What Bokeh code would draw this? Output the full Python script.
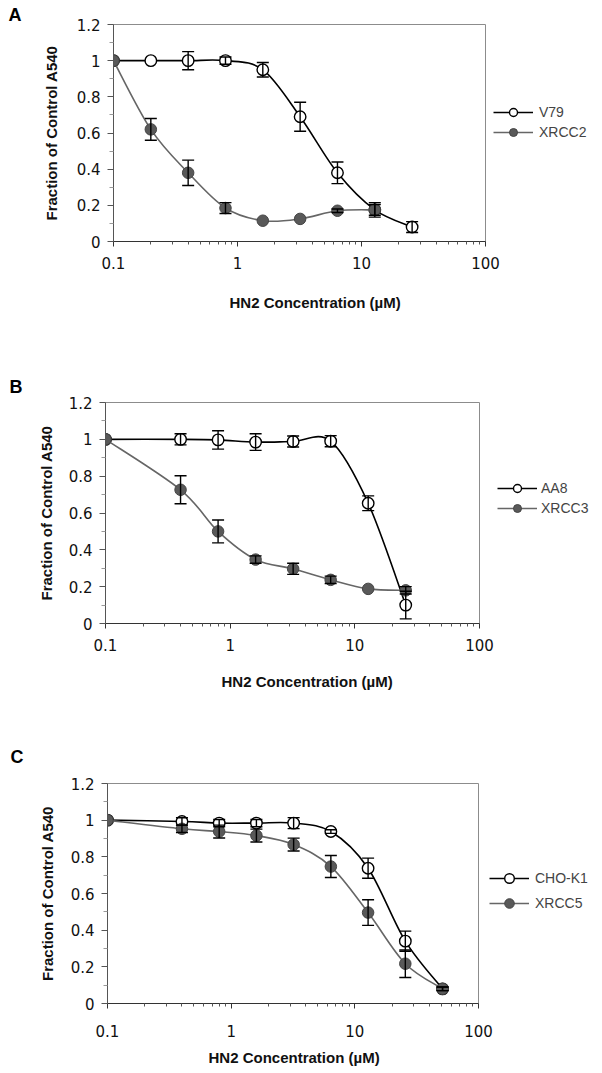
import math
from bokeh.plotting import figure
from bokeh.models import (ColumnDataSource, FixedTicker, Whisker, TeeHead,
                          Legend, LegendItem, Title)
from bokeh.embed import file_html
from bokeh.resources import INLINE

# ---------------- data ----------------
# Panel A
conc_a_v79 = [0.1, 0.2, 0.4, 0.8, 1.6, 3.2, 6.4, 12.8, 25.6]
v79 = [1.0, 1.0, 1.0, 1.0, 0.95, 0.69, 0.38, 0.175, 0.08]
v79_err = [0, 0, 0.05, 0.02, 0.04, 0.08, 0.06, 0.03, 0.03]
conc_a_xrcc2 = [0.1, 0.2, 0.4, 0.8, 1.6, 3.2, 6.4, 12.8]
xrcc2 = [1.0, 0.62, 0.38, 0.185, 0.115, 0.125, 0.17, 0.175]
xrcc2_err = [0, 0.06, 0.07, 0.03, 0, 0, 0.01, 0.04]

# Panel B
conc_b = [0.1, 0.4, 0.8, 1.6, 3.2, 6.4, 12.8, 25.6]
aa8 = [1.0, 1.0, 0.997, 0.985, 0.988, 0.99, 0.653, 0.10]
aa8_err = [0, 0.03, 0.05, 0.045, 0.03, 0.03, 0.04, 0.075]
xrcc3 = [1.0, 0.726, 0.50, 0.347, 0.297, 0.237, 0.188, 0.18]
xrcc3_err = [0, 0.076, 0.062, 0.02, 0.03, 0.02, 0, 0.02]

# Panel C
conc_c = [0.1, 0.4, 0.8, 1.6, 3.2, 6.4, 12.8, 25.6, 51.2]
chok1 = [1.0, 0.993, 0.984, 0.984, 0.984, 0.938, 0.738, 0.34, 0.08]
chok1_err = [0, 0.02, 0.02, 0.02, 0.03, 0.01, 0.055, 0.055, 0.01]
xrcc5 = [1.0, 0.953, 0.938, 0.916, 0.867, 0.747, 0.496, 0.217, 0.08]
xrcc5_err = [0, 0.02, 0.035, 0.035, 0.035, 0.06, 0.07, 0.075, 0.01]

# axes
y_ticks = [0, 0.2, 0.4, 0.6, 0.8, 1, 1.2]
y_tick_labels = ["0", "0.2", "0.4", "0.6", "0.8", "1", "1.2"]
y_minor = [0.1, 0.3, 0.5, 0.7, 0.9, 1.1]
x_ticks = [0.1, 1, 10, 100]
x_tick_labels = ["0.1", "1", "10", "100"]
x_minor = [0.2, 0.3, 0.4, 0.5, 0.6, 0.7, 0.8, 0.9,
           2, 3, 4, 5, 6, 7, 8, 9,
           20, 30, 40, 50, 60, 70, 80, 90]

x_title = "HN2 Concentration (\u00b5M)"
y_title = "Fraction of Control A540"

OPEN_LINE = "#000000"
FILL_LINE = "#666666"
FILL_MARK = "#595959"

TICK_FONT = "DejaVu Sans"
TEXT_FONT = "Liberation Sans"
W = 602


def smooth_segments(xs, ys):
    """Excel-like smoothed line: cubic Bezier segments (Catmull-Rom) in log-x space."""
    lx = [math.log10(v) for v in xs]
    n = len(xs)
    d = dict(x0=[], y0=[], x1=[], y1=[], cx0=[], cy0=[], cx1=[], cy1=[])
    for i in range(n - 1):
        a = max(i - 1, 0)
        b = min(i + 2, n - 1)
        c1x = lx[i] + (lx[i + 1] - lx[a]) / 6.0
        c1y = ys[i] + (ys[i + 1] - ys[a]) / 6.0
        c2x = lx[i + 1] - (lx[b] - lx[i]) / 6.0
        c2y = ys[i + 1] - (ys[b] - ys[i]) / 6.0
        d["x0"].append(xs[i]); d["y0"].append(ys[i])
        d["x1"].append(xs[i + 1]); d["y1"].append(ys[i + 1])
        d["cx0"].append(10 ** c1x); d["cy0"].append(c1y)
        d["cx1"].append(10 ** c2x); d["cy1"].append(c2y)
    return ColumnDataSource(d)


def add_series(p, xs, ys, errs, filled):
    lc = FILL_LINE if filled else OPEN_LINE
    bez = p.bezier(x0="x0", y0="y0", x1="x1", y1="y1", cx0="cx0", cy0="cy0",
                   cx1="cx1", cy1="cy1", source=smooth_segments(xs, ys),
                   line_color=lc, line_width=1.6)
    src = ColumnDataSource(dict(
        base=[x for x, e in zip(xs, errs) if e > 0],
        upper=[y + e for y, e in zip(ys, errs) if e > 0],
        lower=[y - e for y, e in zip(ys, errs) if e > 0]))
    if filled:
        sc = p.scatter(xs, ys, marker="circle", size=11.5, fill_color=FILL_MARK,
                       line_color="#444444", line_width=1)
    else:
        sc = p.scatter(xs, ys, marker="circle", size=11.5, fill_color="white",
                       line_color="black", line_width=1.4)
    w = Whisker(base="base", upper="upper", lower="lower", source=src,
                dimension="height", line_color="black", line_width=1.4,
                upper_head=TeeHead(size=12, line_color="black", line_width=1.4),
                lower_head=TeeHead(size=12, line_color="black", line_width=1.4),
                level="glyph")
    p.add_layout(w)
    return bez, sc


def make_panel(cfg):
    p = figure(frame_width=cfg["right"] - cfg["left"],
               frame_height=cfg["bottom"] - cfg["top"],
               x_axis_type="log",
               x_range=(0.1, 100), y_range=(0, 1.2),
               output_backend="svg", toolbar_location=None,
               min_border_left=cfg["left"], min_border_right=W - cfg["right"],
               min_border_top=cfg["top"], min_border_bottom=cfg["height"] - cfg["bottom"])
    p.grid.visible = False
    p.outline_line_color = "#8c8c8c"
    p.outline_line_width = 1
    p.background_fill_color = "white"
    p.border_fill_color = "white"

    # x axis
    xa = p.xaxis[0]
    xa.ticker = FixedTicker(ticks=x_ticks, minor_ticks=x_minor)
    xa.major_label_overrides = dict(zip(x_ticks, x_tick_labels))
    xa.axis_line_color = "#333333"
    xa.major_tick_line_color = "#333333"
    xa.minor_tick_line_color = "#555555"
    xa.major_tick_out = 5
    xa.major_tick_in = 0
    xa.minor_tick_out = 3
    xa.minor_tick_in = 0
    xa.major_label_standoff = cfg["xstand"]
    xa.major_label_text_font = TICK_FONT
    xa.major_label_text_font_size = "15px"
    xa.major_label_text_color = "#111111"

    # y axis
    ya = p.yaxis[0]
    ya.ticker = FixedTicker(ticks=y_ticks, minor_ticks=y_minor)
    ya.major_label_overrides = dict(zip(y_ticks, y_tick_labels))
    ya.axis_line_color = "#555555"
    ya.major_tick_line_color = "#555555"
    ya.minor_tick_line_color = "#999999"
    ya.major_tick_out = 6
    ya.major_tick_in = 0
    ya.minor_tick_out = 4
    ya.minor_tick_in = 0
    ya.major_label_standoff = 7
    ya.major_label_text_font = TICK_FONT
    ya.major_label_text_font_size = "15px"
    ya.major_label_text_color = "#111111"
    ya.axis_label = y_title
    ya.axis_label_text_font = TEXT_FONT
    ya.axis_label_text_font_style = "bold"
    ya.axis_label_text_font_size = "15px"
    ya.axis_label_standoff = cfg["ystand"]
    ya.axis_label_text_color = "#111111"

    b1, s1 = add_series(p, cfg["x1"], cfg["y1"], cfg["e1"], False)
    b2, s2 = add_series(p, cfg["x2"], cfg["y2"], cfg["e2"], True)

    gh = cfg["leggh"]
    leg = Legend(items=[LegendItem(label=cfg["n1"], renderers=[b1, s1]),
                        LegendItem(label=cfg["n2"], renderers=[b2, s2])],
                 location=cfg["legloc"], orientation="vertical",
                 glyph_width=40, glyph_height=gh, label_height=gh,
                 spacing=cfg["legspace"], padding=0, margin=0,
                 border_line_color=None, background_fill_alpha=0,
                 label_standoff=cfg["legstand"],
                 label_text_font=TEXT_FONT, label_text_font_size="14px")
    p.add_layout(leg, "right")

    # panel letter
    p.add_layout(Title(text=cfg["letter"], align="left", offset=cfg["letoff"],
                       vertical_align="bottom", standoff=cfg["letstand"],
                       text_font=TEXT_FONT, text_font_style="bold",
                       text_font_size="18px", text_color="#000000"), "above")
    # x axis title
    p.add_layout(Title(text=x_title, align="left", offset=cfg["xtoff"],
                       vertical_align="top", standoff=cfg["xtstand"],
                       text_font=TEXT_FONT, text_font_style="bold",
                       text_font_size="15px", text_color="#111111"), "below")
    return p


panels = [
    dict(height=355, left=113, right=485, top=24, bottom=241,
         xstand=10, ystand=14,
         x1=conc_a_v79, y1=v79, e1=v79_err, x2=conc_a_xrcc2, y2=xrcc2, e2=xrcc2_err,
         n1="V79", n2="XRCC2", legloc=(8, 99), leggh=20, legspace=0, legstand=6,
         letoff=-105, letstand=0, xtoff=116, xtstand=44, letter="A"),
    dict(height=357, left=105, right=479, top=47, bottom=268,
         xstand=10, ystand=11,
         x1=conc_b, y1=aa8, e1=aa8_err, x2=conc_b, y2=xrcc3, e2=xrcc3_err,
         n1="AA8", n2="XRCC3", legloc=(18, 105), leggh=20, legspace=0, legstand=4,
         letoff=-96, letstand=12, xtoff=116, xtstand=38, letter="B"),
    dict(height=360, left=107, right=478, top=71, bottom=291,
         xstand=16, ystand=12,
         x1=conc_c, y1=chok1, e1=chok1_err, x2=conc_c, y2=xrcc5, e2=xrcc5_err,
         n1="CHO-K1", n2="XRCC5", legloc=(11, 88), leggh=24, legspace=1, legstand=6,
         letoff=-97, letstand=34, xtoff=101, xtstand=18, letter="C"),
]

figs = [make_panel(c) for c in panels]
open("out.html", "w").write(file_html(figs, INLINE))
